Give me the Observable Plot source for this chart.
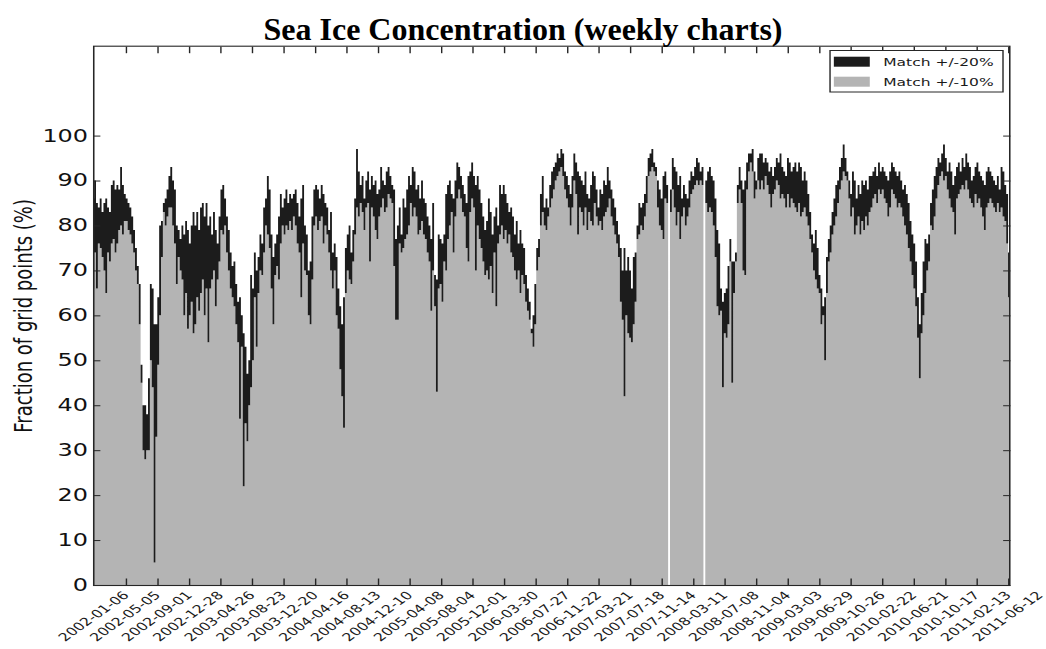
<!DOCTYPE html>
<html>
<head>
<meta charset="utf-8">
<script src="https://cdn.jsdelivr.net/npm/d3@7"></script>
<script src="https://cdn.jsdelivr.net/npm/@observablehq/plot@0.6"></script>
<style>
  body { margin: 0; background: #fff; }
  #wrap { position: relative; width: 1046px; height: 649px; overflow: hidden; }
  #title {
    position: absolute; left: 0; top: 13px; width: 1046px; z-index: 2;
    text-align: center; color: #000;
    font: bold 32px/32px "Liberation Serif", "Times New Roman", serif;
  }
</style>
</head>
<body>
<div id="wrap"><div id="title">Sea Ice Concentration (weekly charts)</div></div>
<script>
// Weekly fraction of grid points whose ice concentration matches within +/-20% and +/-10%.
// One value per week, starting on the week of 2001-09-02; null = no chart that week.
const firstWeek = new Date(Date.UTC(2001, 8, 2));

const within20 = [
  86,90,85,84,86,83,85,86,84,83, 89,90,88,89,88,93,89,87,86,85,
  84,82,79,75,71,67,49,40,40,38, 46,67,66,58,58,64,80,81,85,86,
  88,91,93,90,88,80,79,77,80,78, 81,79,76,80,83,80,83,79,84,85,
  82,85,80,82,78,83,79,76,82,88, 89,86,82,79,74,71,72,67,63,64,
  60,56,53,47,50,69,66,74,70,73, 78,76,84,86,91,88,78,73,76,78,
  82,87,84,86,88,85,87,86,87,88, 85,82,86,89,80,78,70,72,82,88,
  89,88,86,89,87,85,84,79,83,74, 76,73,66,62,58,64,75,78,80,74,
  79,86,97,92,89,91,86,90,92,88, 91,89,90,87,88,93,90,89,92,93,
  91,89,88,77,80,84,78,86,84,88, 91,89,93,92,88,89,86,90,86,85,
  82,80,77,85,69,68,78,77,76,78, 87,89,90,87,86,90,94,93,91,89,
  87,85,91,92,94,91,89,91,88,85, 82,79,81,86,83,78,82,84,80,89,
  87,89,87,85,83,84,82,78,81,76, 79,76,75,69,66,63,57,60,67,75,
  77,87,91,84,86,84,89,92,93,94, 96,95,97,96,92,91,89,87,91,96,
  94,92,91,90,89,92,87,86,89,92, 91,88,84,88,87,90,89,93,90,88,
  86,84,81,78,75,70,75,70,73,70, 66,73,74,80,85,84,85,87,91,95,
  96,97,94,93,90,88,86,91,92,89, null,88,95,93,92,89,91,86,89,87,
  86,90,92,91,93,95,94,92,93,null, 90,92,93,91,90,86,79,76,66,63,
  65,66,71,77,72,72,74,89,93,90, 88,90,94,96,96,97,92,90,95,96,
  96,94,95,94,92,93,91,93,95,94, 96,93,92,91,95,94,92,93,94,92,
  94,93,90,92,90,87,83,78,76,79, 75,69,66,62,64,73,77,80,83,86,
  89,90,93,95,98,95,92,90,87,92, 90,86,89,87,90,89,90,88,91,91,
  92,93,91,94,92,93,92,91,90,92, 94,93,92,91,92,90,88,89,87,85,
  81,78,76,72,64,58,65,72,77,76, 78,85,88,91,93,95,94,96,98,95,
  92,94,92,89,91,93,94,92,95,93, 96,94,93,90,91,93,94,92,91,90,
  89,92,93,92,91,90,89,91,88,93, 92,89,87,74
];

const within10 = [
  66,74,66,76,75,73,70,65,74,72, 76,77,74,76,79,80,78,81,81,79,
  78,76,74,70,67,58,45,30,28,30, 30,50,44,5,33,49,60,73,83,80,
  82,84,84,80,76,67,73,70,68,60, 65,57,60,63,56,58,64,61,65,68,
  60,66,54,66,68,70,62,68,72,79, 78,80,74,70,66,64,62,58,54,37,
  53,22,36,32,40,44,50,64,53,65, 70,69,74,80,78,75,66,58,69,71,
  68,76,80,78,80,79,81,79,82,80, 76,74,64,76,70,69,60,58,68,80,
  82,79,81,82,76,80,78,74,70,66, 70,60,57,48,42,35,65,70,68,67,
  72,78,84,82,85,83,79,84,85,72, 84,82,79,77,82,84,86,83,84,87,
  86,85,71,59,59,76,74,75,77,78, 80,85,82,84,82,78,79,81,78,77,
  74,72,61,70,62,43,66,67,63,72, 70,77,80,83,74,82,86,88,86,83,
  82,75,72,83,86,84,70,80,77,75, 72,69,70,68,71,65,74,62,76,78,
  80,77,79,76,78,74,73,70,68,70, 65,69,67,63,61,59,56,53,58,70,
  73,80,83,80,79,82,84,86,88,90, 91,92,93,91,88,86,84,80,84,90,
  87,78,84,83,80,84,79,83,81,80, 85,82,80,81,79,82,83,84,86,82,
  80,78,76,73,63,59,42,60,56,55, 54,58,63,77,78,80,79,82,85,91,
  92,93,92,91,84,80,79,77,86,85, null,83,88,84,80,83,77,82,84,80,
  82,84,87,88,89,90,89,90,89,null, 85,83,84,83,80,73,62,60,61,44,
  56,55,58,72,45,65,72,85,88,85, 70,69,88,92,94,92,86,88,90,88,
  90,88,91,89,87,84,87,88,90,89, 86,87,86,84,87,84,86,85,84,83,
  85,82,83,84,82,80,77,74,70,68, 66,65,58,60,50,65,72,74,78,80,
  82,85,88,90,92,91,90,86,82,84, 78,80,82,78,81,79,82,80,83,84,
  86,87,85,88,87,88,86,85,82,84, 88,87,86,84,85,84,82,80,78,75,
  72,69,66,62,55,46,56,60,65,70, 72,80,79,82,86,89,91,92,90,91,
  88,86,84,83,78,86,87,88,89,88, 90,88,86,85,84,87,85,86,84,82,
  79,84,85,86,85,84,83,85,83,84, 82,81,76,64
];

const tickLabels = [
  "2002-01-06","2002-05-05","2002-09-01","2002-12-28","2003-04-26","2003-08-23",
  "2003-12-20","2004-04-16","2004-08-13","2004-12-10","2005-04-08","2005-08-04",
  "2005-12-01","2006-03-30","2006-07-27","2006-11-22","2007-03-21","2007-07-18",
  "2007-11-14","2008-03-11","2008-07-08","2008-11-04","2009-03-03","2009-06-29",
  "2009-10-26","2010-02-22","2010-06-21","2010-10-17","2011-02-13","2011-06-12"
];
const yTicks = d3.range(0, 101, 10);

const seriesNames = ["Match +/-20%", "Match +/-10%"];
const seriesColors = ["#1c1c1c", "#b4b4b4"];
const inkColor = "#262626";

// Each week holds its value from its start to its end; both corners go into the
// step outline so a missing week leaves a one-week gap.
const steps = within20.flatMap((v, i) => {
  const start = d3.utcDay.offset(firstWeek, 7 * i);
  const end = d3.utcDay.offset(firstWeek, 7 * i + 7);
  return [
    {date: start, within20: v, within10: within10[i]},
    {date: end, within20: v, within10: within10[i]}
  ];
});

const tickDates = tickLabels.map(s => new Date(s + "T00:00:00Z"));
const xDomain = [new Date("2001-09-04T19:00:00Z"), new Date("2011-02-16T19:00:00Z")];
const tickDatesInside = tickDates.filter(d => d >= xDomain[0] && d <= xDomain[1]);

// The chart is laid out at a narrower natural width and stretched to the page width.
const W = 742, H = 649;

const chart = Plot.plot({
  width: W,
  height: H,
  marginLeft: 66,
  marginRight: 26.2,
  marginTop: 45.7,
  marginBottom: 64,
  style: {fontFamily: "DejaVu Sans", background: "transparent", color: inkColor},
  x: {type: "utc", domain: xDomain},
  y: {domain: [0, 120]},
  marks: [
    Plot.areaY(steps, {x: "date", y1: 0, y2: "within10", fill: seriesColors[1], clip: true}),
    Plot.areaY(steps, {x: "date", y1: "within10", y2: "within20", fill: seriesColors[0], clip: true}),
    Plot.frame({stroke: inkColor, strokeWidth: 1.1}),
    // inward ticks on all four sides
    Plot.axisX(tickDatesInside, {anchor: "bottom", tickSize: -6.5, tickFormat: () => "", label: null, stroke: inkColor}),
    Plot.axisX(tickDatesInside, {anchor: "top", tickSize: -6.5, tickFormat: () => "", label: null, stroke: inkColor}),
    Plot.axisY(yTicks, {anchor: "left", tickSize: -5.2, tickFormat: () => "", label: null, stroke: inkColor}),
    Plot.axisY(yTicks, {anchor: "right", tickSize: -5.2, tickFormat: () => "", label: null, stroke: inkColor}),
    // y tick labels
    Plot.axisY(yTicks, {anchor: "left", tickSize: 0, tickPadding: 4, fontSize: 17, label: null, fill: "#111"}),
    // rotated date labels
    Plot.text(tickDates, {x: d => d, text: tickLabels, frameAnchor: "bottom", rotate: -45,
      textAnchor: "end", lineAnchor: "top", dx: -3.2, dy: 4.8, fontSize: 11.2, fill: "#1a1a1a"}),
    Plot.text(["Fraction of grid points (%)"], {frameAnchor: "left", dx: -49.5, rotate: -90,
      textAnchor: "middle", lineAnchor: "middle", fontSize: 18, fill: "#111"})
  ]
});

// legend box, top right inside the frame
const svg = d3.select(chart);
const legend = svg.append("g").attr("text-anchor", "start");
legend.append("rect")
  .attr("x", 588.8).attr("y", 50.5).attr("width", 122.7).attr("height", 41.5)
  .attr("fill", "#fff").attr("stroke", inkColor).attr("stroke-width", 1);
seriesNames.forEach((name, i) => {
  legend.append("rect")
    .attr("x", 591.5).attr("y", 56.7 + 20 * i).attr("width", 25.5).attr("height", 10)
    .attr("fill", seriesColors[i]);
  legend.append("text")
    .attr("x", 626.5).attr("y", 61.7 + 20 * i).attr("dy", "0.35em")
    .attr("text-anchor", "start")
    .attr("font-family", "DejaVu Sans").attr("font-size", 11).attr("fill", "#1a1a1a")
    .text(name);
});

chart.setAttribute("width", 1046);
chart.setAttribute("height", H);
chart.setAttribute("preserveAspectRatio", "none");
chart.style.width = "1046px";
chart.style.height = H + "px";
chart.style.maxWidth = "none";
chart.style.position = "absolute";
chart.style.left = "0";
chart.style.top = "0";
document.getElementById("wrap").prepend(chart);
</script>
</body>
</html>
